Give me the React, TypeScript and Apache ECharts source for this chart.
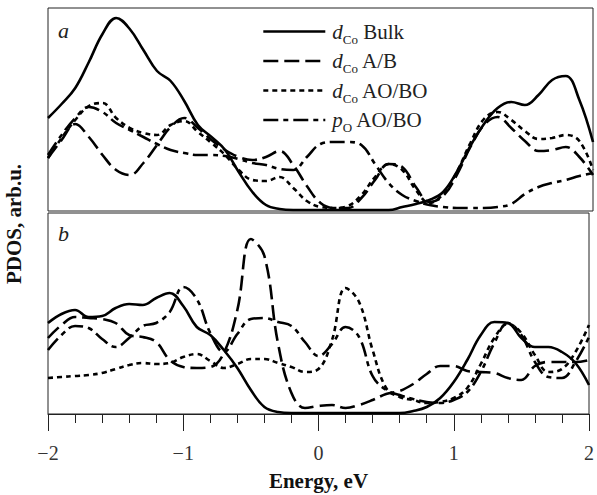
import React, { useEffect, useRef } from 'react';
import * as echarts from 'echarts';

// Energy grid (eV)
const energy = [
  -2.0, -1.9, -1.8, -1.7, -1.6, -1.5, -1.4, -1.3, -1.2, -1.1,
  -1.0, -0.9, -0.8, -0.7, -0.6, -0.5, -0.4, -0.3, -0.2, -0.1,
  0.0, 0.1, 0.2, 0.3, 0.4, 0.5, 0.6, 0.7, 0.8, 0.9,
  1.0, 1.1, 1.2, 1.3, 1.4, 1.5, 1.6, 1.7, 1.8, 1.9, 2.0,
];

// Panel a
const bulkA = [93, 107, 123, 149, 177, 193, 182, 161, 140, 130, 110, 86, 74, 61, 39, 19, 6, 2, 1, 1, 1, 1, 1, 1, 1, 1, 4, 7, 11, 19, 39, 65, 87, 103, 109, 106, 116, 131, 135, 111, 69];
const abA = [53, 71, 87, 74, 56, 41, 36, 48, 66, 84, 93, 83, 71, 61, 54, 51, 54, 60, 46, 25, 8, 3, 3, 13, 31, 47, 44, 24, 9, 15, 36, 64, 86, 94, 83, 70, 60, 61, 64, 54, 36];
const aoA = [53, 73, 91, 105, 108, 93, 83, 78, 76, 86, 90, 79, 68, 56, 41, 31, 30, 34, 23, 10, 4, 3, 5, 16, 34, 47, 41, 21, 8, 17, 39, 68, 92, 99, 91, 80, 72, 73, 76, 70, 41];
const poA = [56, 76, 93, 104, 99, 88, 81, 74, 67, 61, 58, 56, 56, 55, 52, 48, 46, 42, 41, 54, 67, 69, 69, 66, 47, 28, 16, 10, 6, 4, 3, 3, 3, 4, 7, 17, 24, 28, 31, 35, 38];

// Panel b
const bulkB = [91, 100, 104, 97, 98, 106, 110, 109, 116, 121, 108, 87, 79, 64, 46, 24, 7, 2, 1, 1, 1, 1, 1, 1, 1, 1, 1, 3, 7, 16, 32, 54, 79, 92, 91, 76, 67, 67, 62, 51, 29];
const abB = [76, 89, 97, 96, 95, 91, 79, 77, 72, 54, 47, 46, 47, 61, 104, 175, 158, 71, 21, 6, 8, 9, 6, 9, 14, 20, 23, 30, 40, 48, 48, 43, 42, 41, 36, 34, 48, 52, 52, 52, 54];
const aoB = [36, 37, 38, 39, 41, 45, 49, 51, 50, 51, 57, 60, 53, 46, 50, 55, 55, 51, 47, 42, 45, 74, 126, 112, 64, 26, 17, 14, 11, 12, 16, 26, 50, 76, 90, 81, 59, 42, 45, 62, 89];
const poB = [64, 79, 88, 86, 75, 67, 76, 88, 91, 102, 127, 115, 81, 62, 80, 95, 96, 92, 88, 72, 58, 70, 87, 77, 38, 24, 19, 15, 12, 11, 14, 22, 42, 71, 91, 79, 52, 37, 36, 52, 77];

const seriesNames = ['dCo Bulk', 'dCo A/B', 'dCo AO/BO', 'pO AO/BO'];
const legendLabels = ['{i|d}{s|Co} Bulk', '{i|d}{s|Co} A/B', '{i|d}{s|Co} AO/BO', '{i|p}{s|O} AO/BO'];
const xTicks = [-2, -1, 0, 1, 2];
const xTickLabels = ['\u22122', '\u22121', '0', '1', '2'];

const SERIF = '"Liberation Serif", "DejaVu Serif", serif';
const dashStyles: any[] = ['solid', [15, 6], [5, 4], [15, 5, 5, 5]];

function pairs(ys: number[]) {
  return energy.map((e, i) => [e, ys[i]]);
}

export default function App() {
  const ref = useRef<HTMLDivElement>(null);
  useEffect(() => {
    if (!ref.current) return;
    const chart = echarts.init(ref.current, undefined, { renderer: 'svg' });
    const panelA = [bulkA, abA, aoA, poA];
    const panelB = [bulkB, abB, aoB, poB];
    const mk = (data: number[], idx: number, panel: number) => ({
      type: 'line',
      name: seriesNames[idx],
      xAxisIndex: panel,
      yAxisIndex: panel,
      data: pairs(data),
      smooth: 0.4,
      symbol: 'none',
      showSymbol: false,
      lineStyle: { color: '#000', width: 2.6, type: dashStyles[idx], cap: 'butt' },
      itemStyle: { color: '#000' },
      emphasis: { disabled: true },
      z: 10 - idx,
    });
    const series: any[] = [];
    panelA.forEach((d, i) => series.push(mk(d, i, 0)));
    panelB.forEach((d, i) => series.push(mk(d, i, 1)));

    chart.setOption({
      animation: false,
      backgroundColor: '#fff',
      grid: [
        { left: 48, top: 8, width: 545, height: 203, show: true, borderColor: '#222', borderWidth: 1, backgroundColor: 'transparent' },
        { left: 48, top: 213, width: 545, height: 201, show: true, borderColor: '#222', borderWidth: 1, backgroundColor: 'transparent' },
      ],
      xAxis: [
        { type: 'value', gridIndex: 0, min: -2, max: 2, interval: 1, show: false },
        {
          type: 'value', gridIndex: 1, min: -2, max: 2, interval: 1,
          axisLine: { show: true, lineStyle: { color: '#222', width: 1 } },
          axisTick: { show: true, inside: false, length: 17, lineStyle: { color: '#222', width: 1 } },
          minorTick: { show: true, splitNumber: 5, length: 9, lineStyle: { color: '#222', width: 1 } },
          splitLine: { show: false },
          axisLabel: {
            margin: 29,
            fontSize: 20,
            fontFamily: SERIF,
            color: '#333',
            formatter: (v: number) => {
              const i = xTicks.indexOf(Math.round(v));
              return i >= 0 ? xTickLabels[i] : '';
            },
          },
          name: 'Energy, eV',
          nameLocation: 'middle',
          nameGap: 56,
          nameTextStyle: { fontSize: 21, fontWeight: 'bold', fontFamily: SERIF, color: '#111' },
        },
      ],
      yAxis: [
        { type: 'value', gridIndex: 0, min: 0, max: 203, show: false },
        { type: 'value', gridIndex: 1, min: 0, max: 201, show: false },
      ],
      legend: {
        data: seriesNames,
        orient: 'vertical',
        left: 257,
        top: 16,
        itemWidth: 62,
        itemHeight: 14,
        itemGap: 5,
        selectedMode: false,
        itemStyle: { opacity: 0, borderWidth: 0 },
        lineStyle: { width: 2.6 },
        formatter: (name: string) => legendLabels[seriesNames.indexOf(name)],
        textStyle: {
          fontFamily: SERIF,
          fontSize: 21,
          color: '#222',
          lineHeight: 20,
          padding: [0, 0, 0, 2],
          rich: {
            i: { fontFamily: SERIF, fontSize: 21, fontStyle: 'italic', color: '#222', lineHeight: 20 },
            s: { fontFamily: SERIF, fontSize: 13, color: '#222', lineHeight: 20, verticalAlign: 'bottom', padding: [0, 0, -4, 0] },
          },
        },
      },
      graphic: [
        {
          type: 'text', x: 14, y: 224, rotation: Math.PI / 2,
          style: { text: 'PDOS, arb.u.', fontSize: 21, fontWeight: 'bold', fontFamily: SERIF, fill: '#111', align: 'center', verticalAlign: 'middle' },
        },
        {
          type: 'text', x: 58, y: 30,
          style: { text: 'a', fontSize: 22, fontStyle: 'italic', fontFamily: SERIF, fill: '#222', align: 'left', verticalAlign: 'middle' },
        },
        {
          type: 'text', x: 58, y: 233,
          style: { text: 'b', fontSize: 22, fontStyle: 'italic', fontFamily: SERIF, fill: '#222', align: 'left', verticalAlign: 'middle' },
        },
      ],
      series,
    });
    return () => chart.dispose();
  }, []);
  return <div ref={ref} style={{ position: 'absolute', left: 0, top: 0, width: 597, height: 495 }} />;
}
